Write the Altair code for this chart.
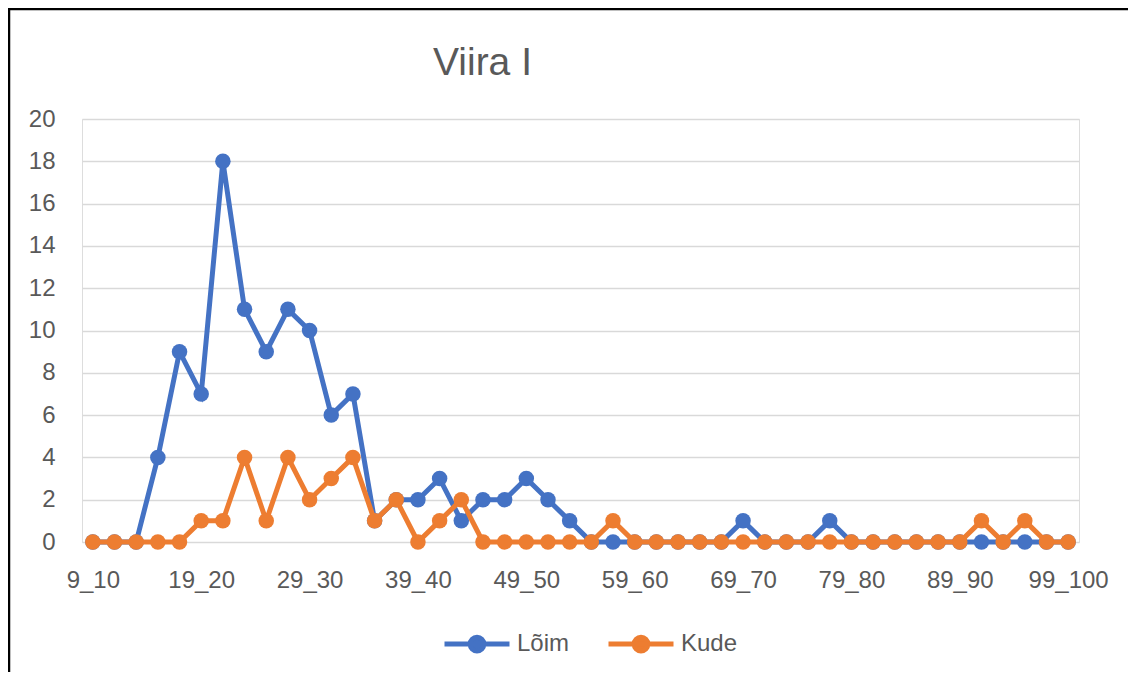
import altair as alt
import pandas as pd

categories = [f"{a}_{a + 1}" for a in range(9, 100, 2)]
loim = [0, 0, 0, 4, 9, 7, 18, 11, 9, 11, 10, 6, 7, 1, 2, 2, 3, 1, 2, 2, 3, 2, 1, 0,
        0, 0, 0, 0, 0, 0, 1, 0, 0, 0, 1, 0, 0, 0, 0, 0, 0, 0, 0, 0, 0, 0]
kude = [0, 0, 0, 0, 0, 1, 1, 4, 1, 4, 2, 3, 4, 1, 2, 0, 1, 2, 0, 0, 0, 0, 0, 0,
        1, 0, 0, 0, 0, 0, 0, 0, 0, 0, 0, 0, 0, 0, 0, 0, 0, 1, 0, 1, 0, 0]
series_names = ["Lõim", "Kude"]
series_colors = ["#4472C4", "#ED7D31"]
y_ticks = list(range(0, 21, 2))
x_label_values = categories[::5]

rows = []
for name, vals in zip(series_names, [loim, kude]):
    for c, v in zip(categories, vals):
        rows.append({"cat": c, "value": v, "series": name})
df = pd.DataFrame(rows)

FONT = "Liberation Sans"
TXT = "#595959"
GRID = "#D9D9D9"

x_enc = alt.X("cat:N", sort=categories,
              scale=alt.Scale(type="point", padding=0.5),
              axis=alt.Axis(title=None, values=x_label_values, labelAngle=0,
                            domain=False, ticks=False, grid=False,
                            labelFont=FONT, labelFontSize=24, labelColor=TXT,
                            labelPadding=26, labelOverlap=False))
y_enc = alt.Y("value:Q", scale=alt.Scale(domain=[0, 20], nice=False),
              axis=alt.Axis(title=None, values=y_ticks, domain=False, ticks=False,
                            grid=True, gridColor=GRID, gridWidth=1.5,
                            labelFont=FONT, labelFontSize=24, labelColor=TXT,
                            labelPadding=27))
legend_path = "M-1,0L1,0M0.21,0A0.21,0.21,0,1,1,-0.21,0A0.21,0.21,0,1,1,0.21,0"
color_enc = alt.Color("series:N", sort=series_names,
                      scale=alt.Scale(domain=series_names, range=series_colors),
                      legend=alt.Legend(title=None, orient="none", direction="horizontal",
                                        legendX=360, legendY=490,
                                        symbolType=legend_path, symbolSize=4225,
                                        symbolStrokeWidth=5, labelOffset=5,
                                        columnPadding=28,
                                        labelFont=FONT, labelFontSize=24,
                                        labelColor=TXT))

base = alt.Chart(df)
layers = []
for name in series_names:
    sub = base.transform_filter(alt.datum.series == name)
    layers.append(sub.mark_line(strokeWidth=5).encode(x=x_enc, y=y_enc, color=color_enc))
    layers.append(sub.mark_point(filled=True, size=240, opacity=1)
                  .encode(x=x_enc, y=y_enc, color=color_enc))

border = alt.Chart(pd.DataFrame({"a": [0]})).mark_rect(
    fillOpacity=0, stroke="black", strokeWidth=2.5, clip=False
).encode(x=alt.value(-73), x2=alt.value(1200), y=alt.value(-110), y2=alt.value(700))

chart = alt.layer(*layers, border).properties(
    width=997, height=423,
    title=alt.TitleParams("Viira I", font=FONT, fontSize=39, fontWeight="normal",
                          color=TXT, anchor="middle", dx=-98, offset=-106,
                          frame="group", baseline="alphabetic"),
    autosize=alt.AutoSizeParams(type="none"),
    padding={"left": 74, "top": 111, "right": 49, "bottom": 130},
).configure_view(stroke=None).configure(background="white")

chart.save("out.html", embed_options={"renderer": "svg", "actions": False})
